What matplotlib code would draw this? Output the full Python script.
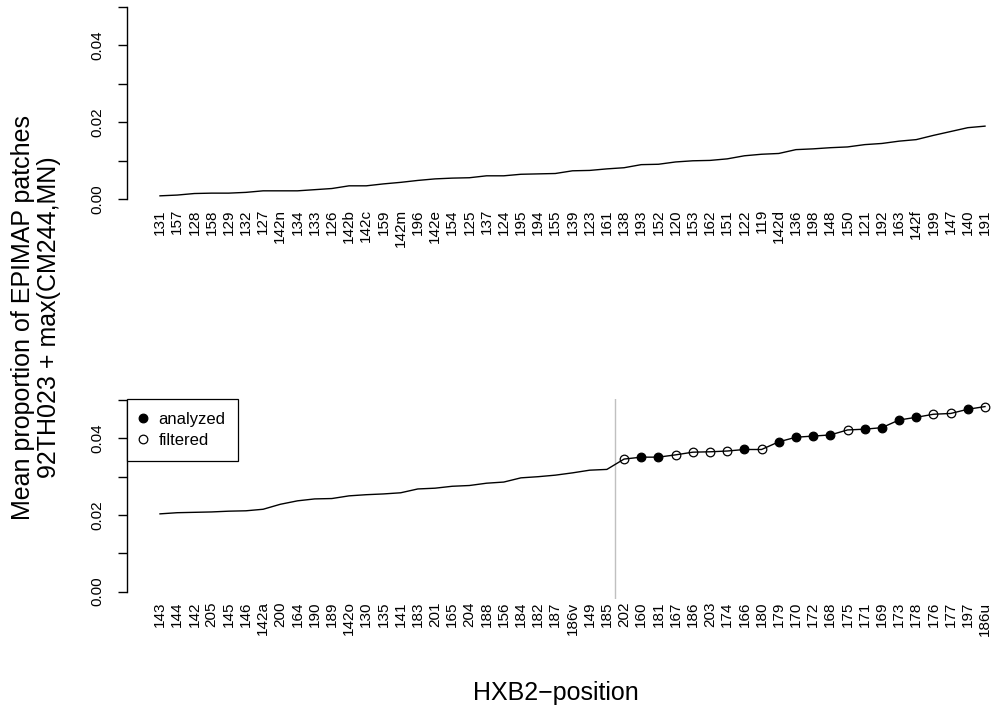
import numpy as np
import matplotlib
matplotlib.use("Agg")
import matplotlib.pyplot as plt
from matplotlib.lines import Line2D

plt.rcParams['font.family'] = ['Liberation Sans', 'DejaVu Sans']

# ---------------------------------------------------------------
# DATOS
# ---------------------------------------------------------------
top_pos = ['131', '157', '128', '158', '129', '132', '127', '142n', '134', '133',
           '126', '142b', '142c', '159', '142m', '196', '142e', '154', '125', '137',
           '124', '195', '194', '155', '139', '123', '161', '138', '193', '152',
           '120', '153', '162', '151', '122', '119', '142d', '136', '198', '148',
           '150', '121', '192', '163', '142f', '199', '147', '140', '191']
top_val = [0.0009, 0.0011, 0.0015, 0.0016, 0.0016, 0.0018, 0.0022, 0.0022, 0.0022, 0.0025,
           0.0028, 0.0035, 0.0035, 0.0040, 0.0044, 0.0049, 0.0053, 0.0055, 0.0056, 0.0061,
           0.0061, 0.0065, 0.0066, 0.0067, 0.0074, 0.0075, 0.0079, 0.0082, 0.0090, 0.0091,
           0.0097, 0.0100, 0.0101, 0.0105, 0.0113, 0.0117, 0.0119, 0.0129, 0.0131, 0.0134,
           0.0136, 0.0142, 0.0145, 0.0151, 0.0155, 0.0166, 0.0176, 0.0186, 0.0190]

bot_pos = ['143', '144', '142', '205', '145', '146', '142a', '200', '164', '190',
           '189', '142o', '130', '135', '141', '183', '201', '165', '204', '188',
           '156', '184', '182', '187', '186v', '149', '185', '202', '160', '181',
           '167', '186', '203', '174', '166', '180', '179', '170', '172', '168',
           '175', '171', '169', '173', '178', '176', '177', '197', '186u']
bot_val = [0.0203, 0.0206, 0.0207, 0.0208, 0.0210, 0.0211, 0.0215, 0.0228, 0.0237, 0.0242,
           0.0243, 0.0250, 0.0253, 0.0255, 0.0258, 0.0268, 0.0270, 0.0275, 0.0277, 0.0283,
           0.0286, 0.0297, 0.0300, 0.0304, 0.0310, 0.0317, 0.0319, 0.0346, 0.0351, 0.0351,
           0.0357, 0.0364, 0.0365, 0.0367, 0.0371, 0.0371, 0.0391, 0.0403, 0.0406, 0.0409,
           0.0422, 0.0424, 0.0428, 0.0448, 0.0455, 0.0463, 0.0465, 0.0476, 0.0483]
# estado de los puntos marcados (desde 202 hasta 186u): 1 = analyzed, 0 = filtered
bot_status = [0, 1, 1, 0, 0, 0, 0, 1, 0, 1, 1, 1, 1, 0, 1, 1, 1, 1, 0, 0, 1, 0]

yticks = [0.0, 0.01, 0.02, 0.03, 0.04, 0.05]
ytick_labels = ['0.00', '', '0.02', '', '0.04', '']

# ---------------------------------------------------------------
# FIGURA
# ---------------------------------------------------------------
W, H = 993, 711
fig = plt.figure(figsize=(W / 100, H / 100), dpi=100)


def px_axes(left, top, right, bottom):
    return fig.add_axes([left / W, 1 - bottom / H, (right - left) / W, (bottom - top) / H])


def style_axis(ax, labels):
    n = len(labels)
    x = np.arange(n)
    ax.set_xlim(-1.92, 48.465)
    ax.set_ylim(-0.002, 0.0502)
    for s in ['top', 'right', 'bottom']:
        ax.spines[s].set_visible(False)
    ax.spines['left'].set_bounds(0, 0.05)
    ax.spines['left'].set_linewidth(1.0)
    ax.set_yticks(yticks)
    ax.set_yticklabels(ytick_labels, rotation=90, va='center', fontsize=11)
    ax.tick_params(axis='y', length=6.5, width=1.0, pad=10)
    ax.set_xticks(x)
    ax.set_xticklabels(labels, rotation=90, fontsize=11)
    ax.tick_params(axis='x', length=0, pad=1.5)
    ax.patch.set_visible(False)
    return x


# panel superior
ax1 = px_axes(127, 6, 993, 207)
x1 = style_axis(ax1, top_pos)
ax1.plot(x1, top_val, color='black', lw=1.0)

# panel inferior
ax2 = px_axes(127, 399.3, 993, 599.3)
x2 = style_axis(ax2, bot_pos)
ax2.plot(x2, bot_val, color='black', lw=1.0, zorder=2)
ax2.axvline(26.5, color='#c0c0c0', lw=1.0, zorder=1)

start = len(bot_val) - len(bot_status)
xs = x2[start:]
ys = np.array(bot_val[start:])
st = np.array(bot_status)
ax2.plot(xs[st == 1], ys[st == 1], 'o', ms=6.2, mfc='black', mec='black', mew=0.9, zorder=3)
ax2.plot(xs[st == 0], ys[st == 0], 'o', ms=6.2, mfc='none', mec='black', mew=0.9, zorder=3)

handles = [Line2D([], [], ls='none', marker='o', ms=6.2, mfc='black', mec='black', mew=0.9),
           Line2D([], [], ls='none', marker='o', ms=6.2, mfc='none', mec='black', mew=0.9)]
leg = ax2.legend(handles, ['analyzed', 'filtered'], loc='upper left',
                 bbox_to_anchor=(0, 1), borderaxespad=0, fontsize=12,
                 fancybox=False, framealpha=1, edgecolor='black',
                 borderpad=0.75, handlelength=0.4, handletextpad=0.75,
                 labelspacing=0.38)
leg.get_frame().set_linewidth(0.9)

# etiquetas de los ejes
fig.text(36 / W, 1 - 317 / H, 'Mean proportion of EPIMAP patches\n92TH023 + max(CM244,MN)',
         rotation=90, ha='center', va='center', multialignment='center',
         fontsize=18, linespacing=1.15)
fig.text(556 / W, 1 - 700 / H, 'HXB2\u2212position', ha='center', va='baseline', fontsize=18)

fig.savefig('out.png', dpi=100)
